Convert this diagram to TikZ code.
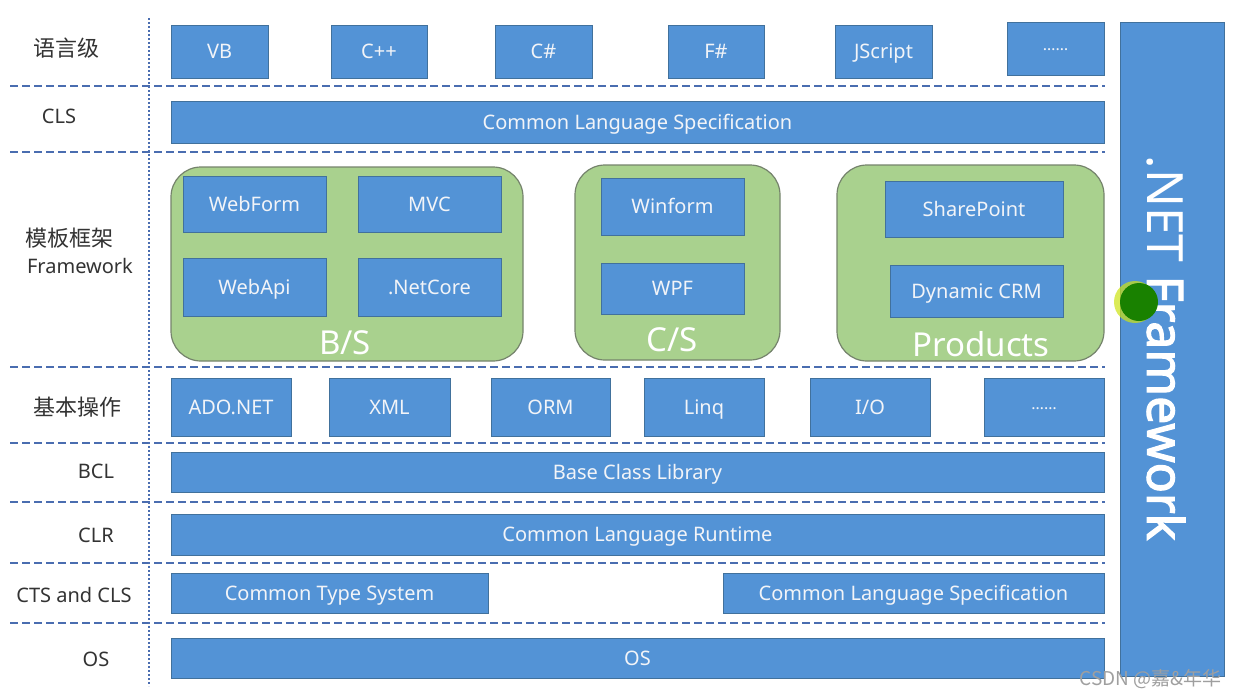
\documentclass[tikz,border=0pt]{standalone}
\usepackage{fontspec}
\setmainfont{Noto Sans}
\newfontfamily\cjk{Noto Sans CJK SC}
\newfontfamily\fbold[FakeBold=2.5]{Noto Sans}
\definecolor{boxblue}{HTML}{5393D6}
\definecolor{boxedge}{HTML}{41719C}
\definecolor{grfill}{HTML}{A9D18E}
\definecolor{gredge}{HTML}{75836C}
\definecolor{dashc}{HTML}{4A6DB0}
\definecolor{lab}{HTML}{333333}
\definecolor{btxt}{HTML}{F2F4F8}
\tikzset{
  bbox/.style={draw=boxedge, fill=boxblue, line width=1pt, inner sep=0pt, text=btxt, font=\fontsize{20}{22}\selectfont},
  gbox/.style={draw=gredge, fill=grfill, line width=1.2pt, rounded corners=30pt, inner sep=0pt},
  lbl/.style={text=lab, inner sep=0pt, font=\fontsize{20}{24}\selectfont},
  clbl/.style={text=lab, inner sep=0pt, font=\cjk\fontsize{22}{24}\selectfont},
  sep/.style={dashc, line width=2.4pt, dash pattern=on 8pt off 4pt},
  vsep/.style={dashc, line width=2pt, dash pattern=on 1.6pt off 2.4pt},
  big/.style={text=white, inner sep=0pt, font=\fontsize{33}{36}\selectfont}
}
\newcommand\bx[7][]{\node[bbox,#1,minimum width={(#5)-(#3)}, minimum height={(#6)-(#4)}] (#2) at ({((#3)+(#5))/2},{((#4)+(#6))/2}) {\raisebox{-7pt}[0pt][0pt]{#7}};}
\newcommand\gx[6]{\node[gbox,minimum width={(#5)-(#3)}, minimum height={(#6)-(#4)}] (#2) at ({((#3)+(#5))/2},{((#4)+(#6))/2}) {#1};}
\newcommand\mydots{\raisebox{5pt}{\fontsize{16}{16}\selectfont ……}}
\begin{document}
\begin{tikzpicture}[x=1pt,y=-1pt]
\useasboundingbox (0,0) rectangle (1237,697);
\fill[white] (0,0) rectangle (1237,697);
% separators
\foreach \yy/\nm in {86/a,152/b,367/c,443/d,502/e,563/f,623/g}{
  \coordinate (sl\nm) at (10,\yy); \coordinate (sr\nm) at (1105,\yy);
  \draw[sep] (sl\nm) -- (sr\nm);
}
\coordinate (vt) at (149,18); \coordinate (vb) at (149,686);
\draw[vsep] (vt) -- (vb);
% left labels
\node[clbl] (l1) at (67,48) {语言级};
\node[lbl] (l2) at (59,116) {CLS};
\node[clbl] (l3) at (69,238) {模板框架};
\node[lbl] (l3b) at (80,266) {Framework};
\node[clbl] (l4) at (78,407) {基本操作};
\node[lbl] (l5) at (96,471) {BCL};
\node[lbl] (l6) at (96,535) {CLR};
\node[lbl] (l7) at (74,595) {CTS and CLS};
\node[lbl] (l8) at (96,659) {OS};
% languages
\bx{vbx}{171}{25}{268}{78}{VB}
\bx{cpp}{331}{25}{427}{78}{C++}
\bx{cs}{495}{25}{592}{78}{C\#}
\bx{fs}{668}{25}{764}{78}{F\#}
\bx{js}{835}{25}{932}{78}{JScript}
\bx{ld}{1007}{22}{1104}{75}{\mydots}
% CLS
\bx{cls}{171}{101}{1104}{143}{Common Language Specification}
% frameworks
\gx{}{bs}{171}{167}{523}{361}
\gx{}{csg}{575}{165}{780}{360}
\gx{}{pr}{837}{165}{1104}{361}
\bx{wf}{183}{176}{326}{232}{WebForm}
\bx{mvc}{358}{176}{501}{232}{MVC}
\bx{wa}{183}{258}{326}{316}{WebApi}
\bx{nc}{358}{258}{501}{316}{.NetCore}
\bx{win}{601}{178}{744}{235}{Winform}
\bx{wpf}{601}{263}{744}{314}{WPF}
\bx{sp}{885}{181}{1063}{237}{SharePoint}
\bx{crm}{890}{265}{1063}{317}{Dynamic CRM}
\node[big] (bst) at (345,343) {B/S};
\node[big] (cst) at (672,340) {C/S};
\node[big] (prt) at (981,344) {Products};
% basic ops
\bx{ado}{171}{378}{291}{436}{ADO.NET}
\bx{xml}{329}{378}{450}{436}{XML}
\bx{orm}{491}{378}{610}{436}{ORM}
\bx{linq}{644}{378}{764}{436}{Linq}
\bx{io}{810}{378}{930}{436}{I/O}
\bx{od}{984}{378}{1104}{436}{\mydots}
% BCL, CLR
\bx{bcl}{171}{452}{1104}{492}{Base Class Library}
\bx{clr}{171}{514}{1104}{555}{Common Language Runtime}
\bx{cts}{171}{573}{488}{613}{Common Type System}
\bx{cls2}{723}{573}{1104}{613}{Common Language Specification}
\bx{os}{171}{638}{1104}{678}{OS}
% right bar
\bx{net}{1120}{22}{1224}{676}{}
\node[rotate=-90, text=white, inner sep=0pt, font=\fontsize{50}{52}\selectfont] (nett) at (1166,348) {.NET {\fbold Framework}};
% pointer
\fill[yellow!80!green, opacity=0.7] (1135,302) circle (21);
\fill[green!45!black!90!yellow] (1139,302) circle (19);
% watermark
\node[text=gray!75, inner sep=0pt, anchor=east, font=\cjk\fontsize{19}{20}\selectfont] (wm) at (1222,679) {CSDN @嘉\&年华};
\end{tikzpicture}
\end{document}
